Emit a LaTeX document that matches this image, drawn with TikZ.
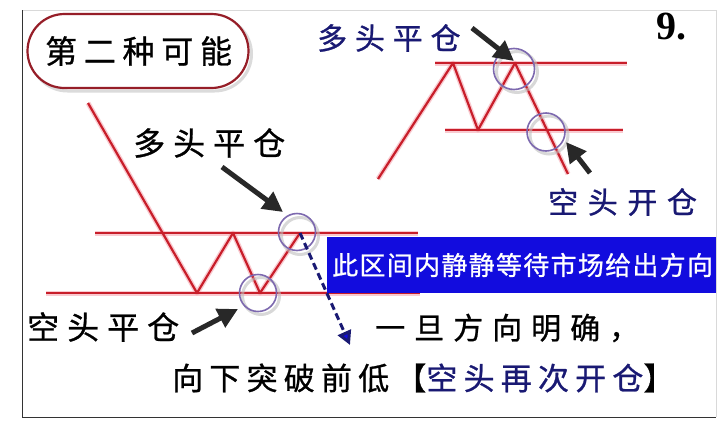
\documentclass[tikz,border=0pt]{standalone}
\usepackage{fontspec}
\setmainfont{Liberation Serif}
\newfontfamily\cjk[FakeBold=0.8]{Noto Sans CJK SC}
\usetikzlibrary{arrows.meta}
\definecolor{redline}{RGB}{200,30,42}
\definecolor{glow}{RGB}{245,160,170}
\definecolor{ringc}{RGB}{125,105,175}
\definecolor{navy}{RGB}{25,25,115}
\definecolor{boxblue}{RGB}{18,12,222}
\definecolor{arrowgray}{RGB}{40,40,40}
\definecolor{ovalred}{RGB}{150,30,40}
\tikzset{
  priceline/.style={draw=redline, line width=2.2pt, line join=round},
  glowline/.style={draw=glow, line width=5pt, opacity=0.55, line join=round},
  ring/.style={circle, draw=ringc, line width=1.6pt, inner sep=0pt},
  ringshadow/.style={circle, draw=black!25, line width=3pt, inner sep=0pt, opacity=0.6},
  bigarrow/.style={draw=arrowgray, line width=5pt, -{Triangle[length=20pt,width=20pt]}},
  lbl/.style={inner sep=0pt, anchor=west, text=black},
}
\begin{document}
\begin{tikzpicture}[x=1pt,y=-1pt]
\useasboundingbox (0,0) rectangle (720,426);
\fill[white] (0,0) rectangle (720,426);
% frame
\draw[black!15, line width=0.8pt] (22,10) -- (716,10) -- (716,417);
\draw[black!80, line width=1pt] (22,10) -- (22,417) -- (716,417);

% title oval
\node[draw=black!20, line width=3pt, rounded corners=37pt, minimum width=221pt, minimum height=74pt, opacity=0.7] (ovalsh) at (141,54) {};
\node[draw=ovalred, fill=white, line width=2.2pt, rounded corners=37pt, minimum width=221pt, minimum height=74pt] (oval) at (138,51) {};
\node[lbl, font=\cjk\fontsize{32}{32}\selectfont\addfontfeature{LetterSpace=21}] (title) at (45,51) {第二种可能};

% figure number
\node[inner sep=0pt, anchor=west, font=\bfseries\fontsize{40}{40}\selectfont] (num) at (656,27) {9.};

% ---------------- left chart ----------------
\coordinate (L0) at (88,103);
\coordinate (L1) at (197,293);
\coordinate (L2) at (233,233);
\coordinate (L3) at (260,293);
\coordinate (L4) at (300,233);
\coordinate (LT1) at (95,233);
\coordinate (LT2) at (418,233);
\coordinate (LB1) at (46,293);
\coordinate (LB2) at (420,293);
\draw[glowline] (LT1) -- (LT2);
\draw[glowline] (LB1) -- (LB2);
\draw[glowline] (L0) -- (L1) -- (L2) -- (L3) -- (L4);
\draw[priceline] (LT1) -- (LT2);
\draw[priceline] (LB1) -- (LB2);
\draw[priceline] (L0) -- (L1) -- (L2) -- (L3) -- (L4);

% rings left
\node[ringshadow, minimum size=37pt] at (261,296) {};
\node[ring, minimum size=37pt] (ringA) at (258,293) {};
\node[ringshadow, minimum size=37pt] at (300,236) {};
\node[ring, minimum size=37pt] (ringB) at (297,232) {};

% blue box
\node[fill=boxblue, minimum width=389pt, minimum height=56pt, inner sep=0pt, anchor=north west] (box) at (327,237) {};
\node[lbl, text=white, font=\cjk\fontsize{26}{26}\selectfont\addfontfeature{LetterSpace=5}] (boxtxt) at (332,265) {此区间内静静等待市场给出方向};

% dashed arrow
\coordinate (Dend) at (350,345);
\draw[navy, line width=3pt, dash pattern=on 7pt off 4pt, -{Triangle[length=14pt,width=14pt,fill=boxblue]}] (L4) -- (Dend);

% labels left
\node[lbl, font=\cjk\fontsize{32}{32}\selectfont\addfontfeature{LetterSpace=25}] (dtL) at (133,143) {多头平仓};
\node[lbl, font=\cjk\fontsize{32}{32}\selectfont\addfontfeature{LetterSpace=25}] (ktL) at (27,327) {空头平仓};
\coordinate (a1s) at (222,167);
\coordinate (a1e) at (283,212);
\draw[bigarrow] (a1s) -- (a1e);
\coordinate (a2s) at (192,333);
\coordinate (a2e) at (238,309);
\draw[bigarrow] (a2s) -- (a2e);

% bottom text
\node[lbl, font=\cjk\fontsize{30}{30}\selectfont\addfontfeature{LetterSpace=30}] (t1) at (375,328) {一旦方向明确，};
\node[lbl, font=\cjk\fontsize{31}{31}\selectfont\addfontfeature{LetterSpace=20}] (t2) at (172,378) {向下突破前低【\textcolor{navy}{空头再次开仓}】};

% ---------------- right chart ----------------
\coordinate (R0) at (378,179);
\coordinate (R1) at (453,63);
\coordinate (R2) at (478,130);
\coordinate (R3) at (515,63);
\coordinate (R4) at (568,174);
\coordinate (RT1) at (435,63);
\coordinate (RT2) at (627,63);
\coordinate (RB1) at (445,130);
\coordinate (RB2) at (623,130);
\draw[glowline] (RT1) -- (RT2);
\draw[glowline] (RB1) -- (RB2);
\draw[glowline] (R0) -- (R1) -- (R2) -- (R3) -- (R4);
\draw[priceline] (RT1) -- (RT2);
\draw[priceline] (RB1) -- (RB2);
\draw[priceline] (R0) -- (R1) -- (R2) -- (R3) -- (R4);
\node[ringshadow, minimum size=41pt] at (517,72) {};
\node[ring, minimum size=41pt] (ringC) at (514,69) {};
\node[ringshadow, minimum size=38pt] at (549,135) {};
\node[ring, minimum size=38pt] (ringD) at (546,132) {};

\node[lbl, text=navy, font=\cjk\fontsize{30}{30}\selectfont\addfontfeature{LetterSpace=26}] (dtR) at (317,38) {多头平仓};
\node[lbl, text=navy, font=\cjk\fontsize{30}{30}\selectfont\addfontfeature{LetterSpace=32}] (ktR) at (548,202) {空头开仓};
\coordinate (a3s) at (472,28);
\coordinate (a3e) at (514,61);
\draw[bigarrow] (a3s) -- (a3e);
\coordinate (a4s) at (590,173);
\coordinate (a4e) at (566,142);
\draw[bigarrow] (a4s) -- (a4e);
\end{tikzpicture}
\end{document}
